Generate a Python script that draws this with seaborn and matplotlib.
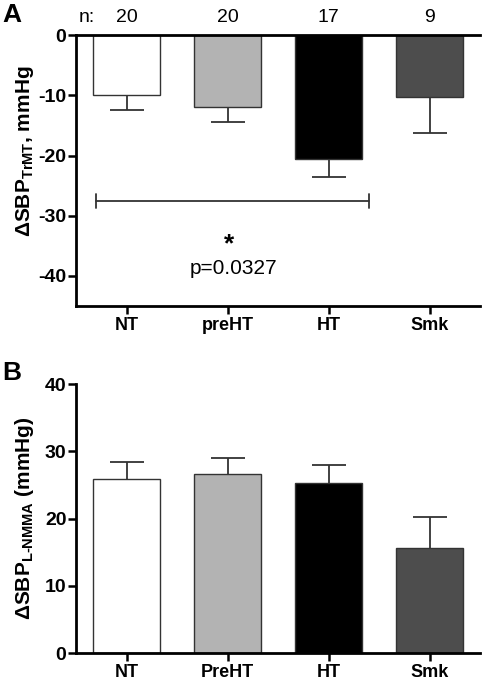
import numpy as np
import seaborn as sns
import matplotlib.pyplot as plt

# panel A: change in SBP during TrMT
groups_a = ["NT", "preHT", "HT", "Smk"]
means_a = [-10.0, -12.0, -20.5, -10.3]
sem_a = [2.4, 2.4, 3.0, 5.9]
n_a = [20, 20, 17, 9]

# panel B: change in SBP with L-NMMA
groups_b = ["NT", "PreHT", "HT", "Smk"]
means_b = [25.9, 26.7, 25.3, 15.6]
sem_b = [2.5, 2.3, 2.7, 4.7]

colors = ["#ffffff", "#b3b3b3", "#000000", "#4d4d4d"]

sns.set_style("ticks")
plt.rcParams['font.family'] = ['Liberation Sans', 'DejaVu Sans']
plt.rcParams['mathtext.fontset'] = 'custom'
plt.rcParams['mathtext.rm'] = 'Liberation Sans:bold'
plt.rcParams['mathtext.bf'] = 'Liberation Sans:bold'
plt.rcParams['mathtext.default'] = 'bf'
plt.rcParams['axes.unicode_minus'] = False
for k in ['text.color', 'axes.labelcolor', 'xtick.color', 'ytick.color', 'axes.edgecolor']:
    plt.rcParams[k] = 'black'

fig = plt.figure(figsize=(4.82, 6.82), dpi=100)
axA = fig.add_axes([0.158, 0.5513, 0.838, 0.397])
axB = fig.add_axes([0.158, 0.0425, 0.838, 0.394])

edge = "#333333"


def bars(ax, groups, means, sem, upper):
    sns.barplot(x=groups, y=means, hue=groups, palette=colors, legend=False,
                width=0.67, edgecolor=edge, linewidth=1.0, ax=ax, zorder=2)
    zeros = [0] * len(sem)
    yerr = [zeros, sem] if upper else [sem, zeros]
    eb = ax.errorbar(np.arange(len(means)), means, yerr=yerr, fmt='none',
                     ecolor=edge, elinewidth=1.3, capsize=12, capthick=1.3, zorder=3)
    # hide the cap sitting on the bar end
    caps = eb[1]
    caps[0 if upper else 1].set_visible(False)
    ax.set_xlim(-0.5, 3.5)
    ax.tick_params(axis='both', length=6, width=1.8, color='black')
    ax.tick_params(axis='x', labelsize=13, pad=2)
    ax.tick_params(axis='y', labelsize=14, pad=1)


def bold_ticks(ax):
    for lab in ax.get_xticklabels() + ax.get_yticklabels():
        lab.set_fontweight('bold')


# ---- panel A ----
bars(axA, groups_a, means_a, sem_a, upper=False)
axA.set_ylim(-45, 0)
axA.set_yticks([0, -10, -20, -30, -40])
bold_ticks(axA)
for side in ['left', 'bottom', 'top']:
    axA.spines[side].set_linewidth(2)
axA.spines['right'].set_visible(False)
axA.set_ylabel("ΔSBP$_{TrMT}$, mmHg", fontsize=15, fontweight='bold')
axA.yaxis.set_label_coords(-0.10, 0.57)

# significance bracket NT vs HT
br_left, br_right, br_y, br_h = -0.3, 2.4, -27.5, 1.2
axA.plot([br_left, br_right], [br_y, br_y], color=edge, lw=1.3)
axA.plot([br_left, br_left], [br_y - br_h, br_y + br_h], color=edge, lw=1.3)
axA.plot([br_right, br_right], [br_y - br_h, br_y + br_h], color=edge, lw=1.3)
axA.text(1.01, -34.8, "*", ha='center', va='center', fontsize=19, fontweight='bold')
axA.text(1.06, -38.8, "p=0.0327", ha='center', va='center', fontsize=15)

# n labels above panel A
trans = axA.get_xaxis_transform()
axA.text(-0.39, 1.066, "n:", ha='center', va='center', fontsize=14, transform=trans)
for i, n in enumerate(n_a):
    axA.text(i, 1.066, str(n), ha='center', va='center', fontsize=14, transform=trans)

# ---- panel B ----
bars(axB, groups_b, means_b, sem_b, upper=True)
axB.set_ylim(0, 40)
axB.set_yticks([0, 10, 20, 30, 40])
bold_ticks(axB)
sns.despine(ax=axB)
for side in ['left', 'bottom']:
    axB.spines[side].set_linewidth(2)
axB.set_ylabel("ΔSBP$_{L\\text{-}NMMA}$ (mmHg)", fontsize=15, fontweight='bold')
axB.yaxis.set_label_coords(-0.10, 0.5)

fig.text(12 / 482, 1 - 15 / 682, "A", fontsize=19, fontweight='bold', ha='center', va='center')
fig.text(12 / 482, 1 - 373 / 682, "B", fontsize=19, fontweight='bold', ha='center', va='center')

fig.savefig("out.png", dpi=100)
